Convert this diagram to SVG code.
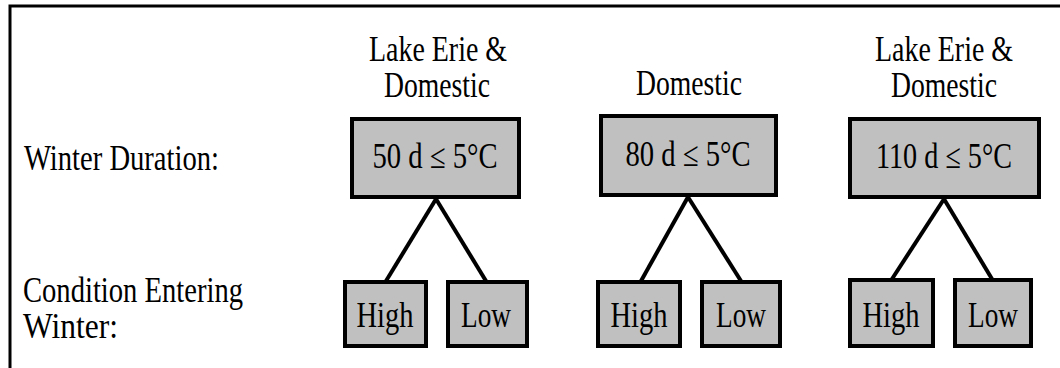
<svg xmlns="http://www.w3.org/2000/svg" width="1060" height="368" viewBox="0 0 1060 368">
  <style>
    .frame { fill: none; stroke: #000; stroke-width: 3; }
    .box { fill: #c0c0c0; stroke: #000; stroke-width: 4; }
    .link { stroke: #000; stroke-width: 4; fill: none; }
  </style>
  <rect width="1060" height="368" fill="#fff"/>
  <!-- open frame: left and top edges only -->
  <path class="frame" d="M10,368 V6 H1060"/>

  <g font-family="Liberation Serif" font-size="35" fill="#000" lengthAdjust="spacingAndGlyphs">
    <!-- row labels -->
    <g id="row-labels">
      <text x="24" y="170" textLength="195" lengthAdjust="spacingAndGlyphs">Winter Duration:</text>
      <text x="23" y="302" textLength="220" lengthAdjust="spacingAndGlyphs">Condition Entering</text>
      <text x="23" y="338" textLength="95" lengthAdjust="spacingAndGlyphs">Winter:</text>
    </g>

    <!-- connectors -->
    <g id="connectors">
      <line class="link" x1="436" y1="199" x2="386" y2="281"/>
      <line class="link" x1="436" y1="199" x2="486" y2="281"/>
      <line class="link" x1="688" y1="197" x2="641" y2="281"/>
      <line class="link" x1="688" y1="197" x2="741" y2="281"/>
      <line class="link" x1="944" y1="199" x2="892" y2="279"/>
      <line class="link" x1="944" y1="199" x2="992" y2="279"/>
    </g>

    <g text-anchor="middle">
      <!-- 50 day group -->
      <g id="group-50">
        <text x="438" y="61" textLength="138" lengthAdjust="spacingAndGlyphs">Lake Erie &amp;</text>
        <text x="437" y="97" textLength="106" lengthAdjust="spacingAndGlyphs">Domestic</text>
      </g>
      <g id="node-50">
        <rect class="box" x="352" y="119" width="167" height="78"/>
        <text x="435" y="168" textLength="125" lengthAdjust="spacingAndGlyphs">50 d ≤ 5°C</text>
      </g>
      <g id="node-50-high">
        <rect class="box" x="345" y="282" width="81" height="64"/>
        <text x="385" y="327" textLength="57" lengthAdjust="spacingAndGlyphs">High</text>
      </g>
      <g id="node-50-low">
        <rect class="box" x="448" y="282" width="79" height="64"/>
        <text x="486" y="327" textLength="50" lengthAdjust="spacingAndGlyphs">Low</text>
      </g>

      <!-- 80 day group -->
      <g id="group-80">
        <text x="689" y="95" textLength="106" lengthAdjust="spacingAndGlyphs">Domestic</text>
      </g>
      <g id="node-80">
        <rect class="box" x="601" y="116" width="175" height="79"/>
        <text x="688" y="166" textLength="125" lengthAdjust="spacingAndGlyphs">80 d ≤ 5°C</text>
      </g>
      <g id="node-80-high">
        <rect class="box" x="598" y="282" width="82" height="64"/>
        <text x="639" y="327" textLength="57" lengthAdjust="spacingAndGlyphs">High</text>
      </g>
      <g id="node-80-low">
        <rect class="box" x="702" y="282" width="78" height="64"/>
        <text x="741" y="327" textLength="50" lengthAdjust="spacingAndGlyphs">Low</text>
      </g>

      <!-- 110 day group -->
      <g id="group-110">
        <text x="944" y="61" textLength="138" lengthAdjust="spacingAndGlyphs">Lake Erie &amp;</text>
        <text x="944" y="97" textLength="106" lengthAdjust="spacingAndGlyphs">Domestic</text>
      </g>
      <g id="node-110">
        <rect class="box" x="850" y="119" width="189" height="78"/>
        <text x="944" y="168" textLength="136" lengthAdjust="spacingAndGlyphs">110 d ≤ 5°C</text>
      </g>
      <g id="node-110-high">
        <rect class="box" x="850" y="280" width="83" height="66"/>
        <text x="891" y="327" textLength="57" lengthAdjust="spacingAndGlyphs">High</text>
      </g>
      <g id="node-110-low">
        <rect class="box" x="955" y="280" width="76" height="66"/>
        <text x="993" y="327" textLength="50" lengthAdjust="spacingAndGlyphs">Low</text>
      </g>
    </g>
  </g>
</svg>
